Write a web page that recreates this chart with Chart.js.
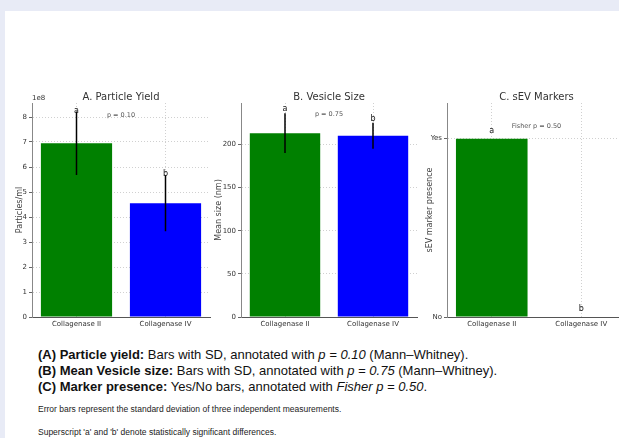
<!DOCTYPE html>
<html>
<head>
<meta charset="utf-8">
<script src="https://cdn.jsdelivr.net/npm/chart.js@4"></script>
<style>
  html, body { margin: 0; padding: 0; width: 619px; height: 438px; overflow: hidden; background: #e8ebf6; }
  #sheet { position: absolute; left: 5px; top: 11px; right: 0; bottom: 0; background: #fff; }
  canvas { position: absolute; top: 80px; }
  #cA { left: 0; }
  #cB { left: 200px; }
  #cC { left: 410px; }
  .caption { position: absolute; left: 38px; top: 347px; font: 13px "Liberation Sans", Arial, sans-serif; line-height: 16px; color: #111; white-space: nowrap; }
  .note { position: absolute; left: 38px; font: 8.5px "Liberation Sans", Arial, sans-serif; color: #222; white-space: nowrap; }
</style>
</head>
<body>
<div id="sheet"></div>
<canvas id="cA" width="215" height="260"></canvas>
<canvas id="cB" width="222" height="260"></canvas>
<canvas id="cC" width="216" height="260"></canvas>
<div class="caption">
  <div><b>(A) Particle yield:</b> Bars with SD, annotated with <i>p = 0.10</i> (Mann–Whitney).</div>
  <div><b>(B) Mean Vesicle size:</b> Bars with SD, annotated with <i>p = 0.75</i> (Mann–Whitney).</div>
  <div><b>(C) Marker presence:</b> Yes/No bars, annotated with <i>Fisher p = 0.50</i>.</div>
</div>
<div class="note" style="top:404px">Error bars represent the standard deviation of three independent measurements.</div>
<div class="note" style="top:427px">Superscript 'a' and 'b' denote statistically significant differences.</div>
<script>
// Data
const groups = ['Collagenase II', 'Collagenase IV'];
const letters = ['a', 'b'];
const barColors = ['#008000', '#0000ff'];

const particleMean = [6.95e8, 4.55e8];
const particleSD = [1.27e8, 1.12e8];
const particleTicks = [0, 1e8, 2e8, 3e8, 4e8, 5e8, 6e8, 7e8, 8e8];

const sizeMean = [213, 210];
const sizeSD = [23, 15];
const sizeTicks = [0, 50, 100, 150, 200];

const markerPresence = [1, 0];
const markerTicks = [0, 1];
const markerTickLabels = ['No', 'Yes'];

const FONT = 'DejaVu Sans';

// draws error bars, titles, letters and p-value text
const annotate = {
  id: 'annotate',
  afterDraw(chart, args, o) {
    const { ctx, chartArea: area, scales: { x, y } } = chart;
    ctx.save();
    if (o.sd) {
      ctx.strokeStyle = '#000';
      ctx.lineWidth = 1.5;
      o.mean.forEach((m, i) => {
        const px = x.getPixelForValue(i);
        ctx.beginPath();
        ctx.moveTo(px, y.getPixelForValue(m - o.sd[i]));
        ctx.lineTo(px, y.getPixelForValue(m + o.sd[i]));
        ctx.stroke();
      });
    }
    // title
    ctx.fillStyle = '#333';
    ctx.font = '10px ' + FONT;
    ctx.textAlign = 'center';
    ctx.textBaseline = 'alphabetic';
    ctx.fillText(o.title, (area.left + area.right) / 2, area.top - 3);
    // exponent
    if (o.exponent) {
      ctx.font = '7px ' + FONT;
      ctx.textAlign = 'left';
      ctx.fillText(o.exponent, area.left, area.top - 3);
    }
    // letters
    ctx.fillStyle = '#111';
    ctx.font = '8px ' + FONT;
    ctx.textAlign = 'center';
    o.mean.forEach((m, i) => {
      const top = m + (o.sd ? o.sd[i] : 0);
      ctx.fillText(letters[i], x.getPixelForValue(i), y.getPixelForValue(top) + o.letterShift);
    });
    // p value
    ctx.fillStyle = '#555';
    ctx.font = '6.5px ' + FONT;
    ctx.textBaseline = 'middle';
    ctx.fillText(o.pText, (area.left + area.right) / 2, y.getPixelForValue(o.pAt));
    ctx.restore();
  }
};

function makeChart(id, cfg) {
  new Chart(document.getElementById(id), {
    type: 'bar',
    data: {
      labels: groups,
      datasets: [{ data: cfg.mean, backgroundColor: barColors, barPercentage: 0.8, categoryPercentage: 1.0 }]
    },
    plugins: [annotate],
    options: {
      responsive: false,
      animation: false,
      devicePixelRatio: 1,
      layout: { padding: { top: 23, right: cfg.padRight, left: 0, bottom: 0 } },
      plugins: {
        legend: { display: false },
        tooltip: { enabled: false },
        annotate: cfg.note
      },
      scales: {
        x: {
          z: 1,
          afterFit: s => { s.height = 23; },
          grid: { offset: false, drawTicks: false, color: 'rgba(120,120,120,0.35)' },
          border: { display: true, color: '#555', width: 1, dash: [1, 2] },
          ticks: { padding: 3, color: '#333', font: { family: FONT, size: 7 } }
        },
        y: {
          z: 1,
          min: 0,
          max: cfg.max,
          afterFit: s => { s.width = cfg.yWidth; },
          afterBuildTicks: s => { s.ticks = cfg.ticks.map(v => ({ value: v })); },
          grid: { color: 'rgba(120,120,120,0.35)', tickLength: 3, tickColor: '#666', tickBorderDash: [] },
          border: { display: true, color: '#888', width: 1, dash: [1, 2] },
          ticks: { padding: 2, color: '#333', font: { family: FONT, size: 7 }, callback: cfg.tickLabel },
          title: { display: true, text: cfg.yTitle, color: '#444', font: { family: FONT, size: 8 }, padding: { top: cfg.titlePad, bottom: 0 } }
        }
      }
    }
  });
}

makeChart('cA', {
  mean: particleMean, max: 8.56e8, ticks: particleTicks, yWidth: 32, padRight: 5, titlePad: 15,
  yTitle: 'Particles/ml',
  tickLabel: v => String(v / 1e8),
  note: { title: 'A. Particle Yield', exponent: '1e8', mean: particleMean, sd: particleSD, letterShift: 1, pText: 'p = 0.10', pAt: 8.05e8 }
});

makeChart('cB', {
  mean: sizeMean, max: 248, ticks: sizeTicks, yWidth: 41, padRight: 5, titlePad: 14,
  yTitle: 'Mean size (nm)',
  tickLabel: v => String(v),
  note: { title: 'B. Vesicle Size', mean: sizeMean, sd: sizeSD, letterShift: -2, pText: 'p = 0.75', pAt: 235 }
});

makeChart('cC', {
  mean: markerPresence, max: 1.2, ticks: markerTicks, yWidth: 37, padRight: 0, titlePad: 15,
  yTitle: 'sEV marker presence',
  tickLabel: v => markerTickLabels[markerTicks.indexOf(v)],
  note: { title: 'C. sEV Markers', mean: markerPresence, letterShift: -6, pText: 'Fisher p = 0.50', pAt: 1.07 }
});
</script>
</body>
</html>
